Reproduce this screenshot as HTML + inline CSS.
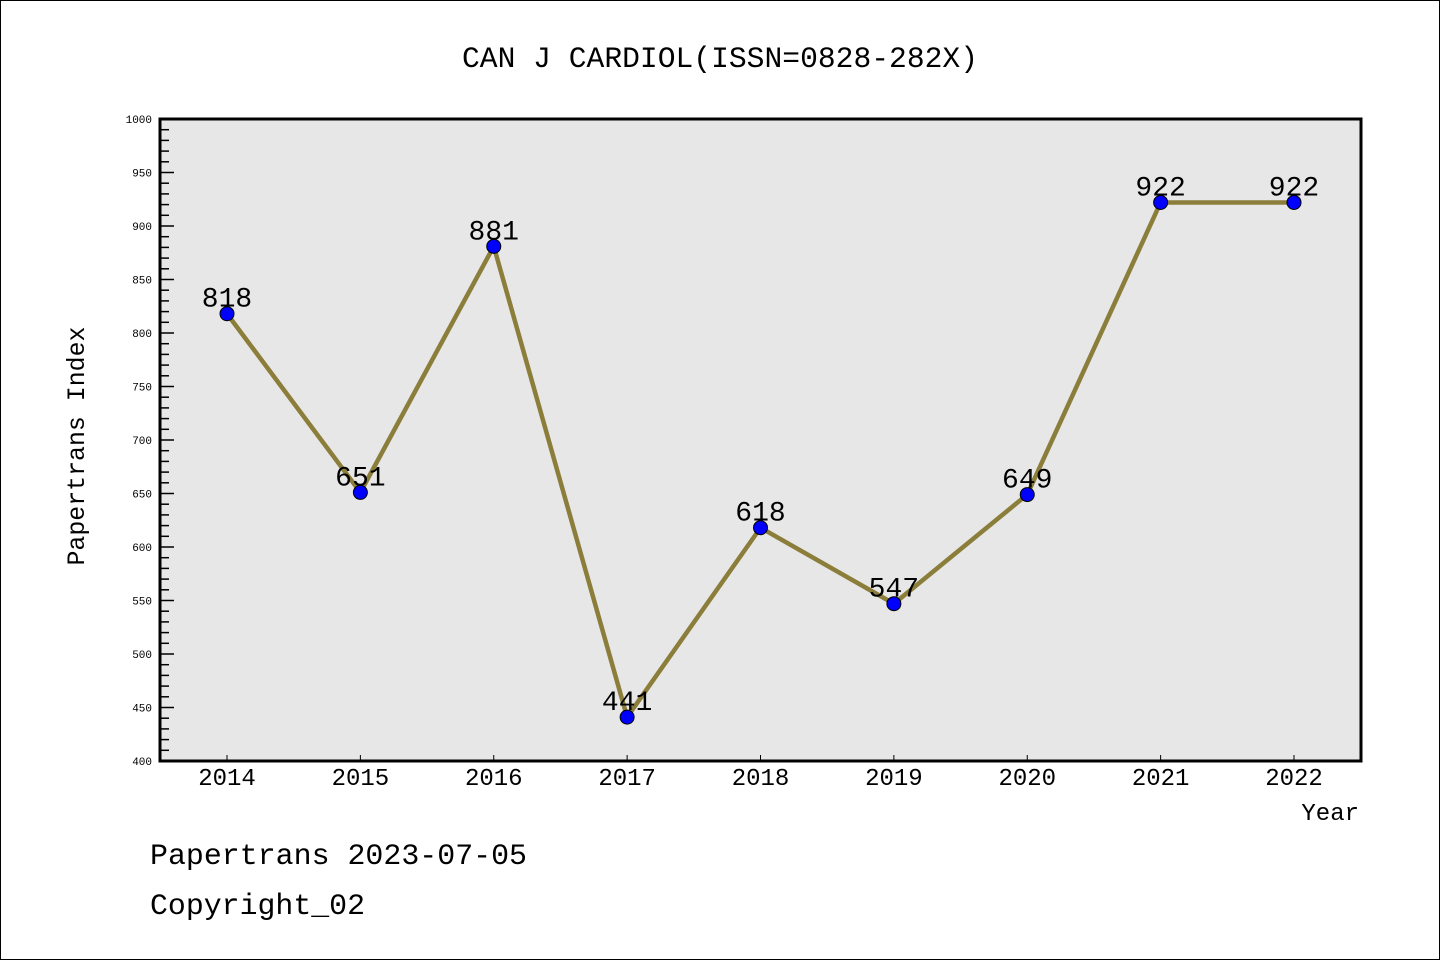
<!DOCTYPE html>
<html><head><meta charset="utf-8"><style>
html,body{margin:0;padding:0;background:#fff}
svg{display:block}
text{font-family:"Liberation Mono","DejaVu Sans Mono",monospace}
</style></head><body>
<svg id="chart" width="1440" height="960" xmlns="http://www.w3.org/2000/svg">
<rect x="0.5" y="0.5" width="1439" height="959" fill="#fff" stroke="#000"/>
<text x="720" y="67" text-anchor="middle" font-size="30" textLength="516" lengthAdjust="spacingAndGlyphs">CAN J CARDIOL(ISSN=0828-282X)</text>
<rect x="160" y="119" width="1201" height="642" fill="#e7e7e7"/>
<g id="yticks"></g>
<g id="xticks"></g>
<g id="series"></g>
<rect x="160" y="119" width="1201" height="642" fill="none" stroke="#000" stroke-width="3"/>
<text transform="translate(84,446) rotate(-90)" text-anchor="middle" font-size="25" textLength="239" lengthAdjust="spacingAndGlyphs">Papertrans Index</text>
<text x="1359" y="820" text-anchor="end" font-size="24">Year</text>
<text x="150" y="864" font-size="30" textLength="377" lengthAdjust="spacingAndGlyphs">Papertrans 2023-07-05</text>
<text x="150" y="914" font-size="30" textLength="215" lengthAdjust="spacingAndGlyphs">Copyright_02</text>
</svg>
<script>
const years = ["2014","2015","2016","2017","2018","2019","2020","2021","2022"];
const values = [818,651,881,441,618,547,649,922,922];
const yTickLabels = [400,450,500,550,600,650,700,750,800,850,900,950,1000];
const NS="http://www.w3.org/2000/svg";
const L=160,R=1361,T=119,B=761,ymin=400,ymax=1000;
const x0=227,x1=1294;
function xs(i){return x0+(x1-x0)*i/(years.length-1);}
function ys(v){return B-(v-ymin)/(ymax-ymin)*(B-T);}
function mk(tag,attrs,parent){const e=document.createElementNS(NS,tag);for(const k in attrs)e.setAttribute(k,attrs[k]);parent.appendChild(e);return e;}
const yg=document.getElementById('yticks');
for(let v=ymin+10;v<ymax;v+=10){
  const major=v%50===0;
  const t=mk('line',{x1:L,x2:L+(major?14:9),y1:ys(v),y2:ys(v),stroke:'#000','stroke-width':1.5},yg);
  
  
}
yTickLabels.forEach(v=>{
  const t=mk('text',{x:152,y:ys(v)+4,'text-anchor':'end','font-size':11,'font-family':'DejaVu Sans, sans-serif'},yg);
  t.textContent=v;
  
  
});
const xg=document.getElementById('xticks');
years.forEach((y,i)=>{
  const tk=mk('line',{x1:xs(i),x2:xs(i),y1:B,y2:B-6,stroke:'#000','stroke-width':1},xg);
  
  
  const t=mk('text',{x:xs(i),y:785,'text-anchor':'middle','font-size':24,'font-family':'Liberation Sans, sans-serif'},xg);
  t.textContent=y;
  
  
});
const sg=document.getElementById('series');
const pts=values.map((v,i)=>xs(i)+','+ys(v)).join(' ');
const line=mk('polyline',{points:pts,fill:'none',stroke:'#8b7d3a','stroke-width':4.5,'stroke-linejoin':'round'},sg);


values.forEach((v,i)=>{
  const c=mk('circle',{cx:xs(i),cy:ys(v),r:7,fill:'#0000ff',stroke:'#000','stroke-width':1},sg);
  
  
  const t=mk('text',{x:xs(i),y:ys(v)-7,'text-anchor':'middle','font-size':28,'font-family':'Liberation Sans, sans-serif'},sg);
  t.textContent=v;
  
  
});
</script>
</body></html>
